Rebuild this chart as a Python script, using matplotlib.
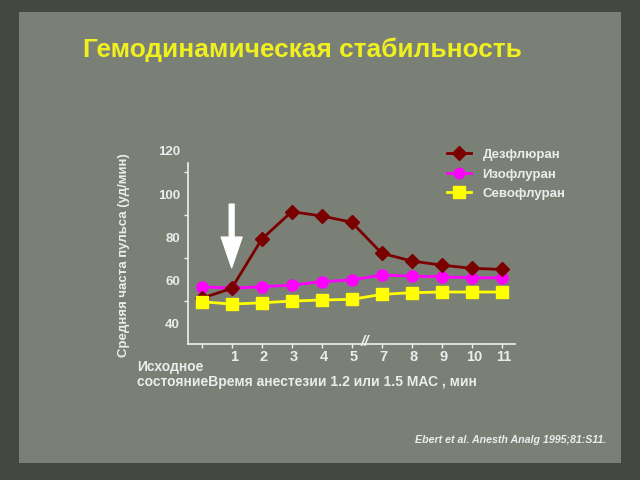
import matplotlib.pyplot as plt
from matplotlib.patches import Rectangle

# data (beats/min)
time_labels = ['1', '2', '3', '4', '5', '7', '8', '9', '10', '11']
desflurane = [51.3, 55.9, 78.7, 91.5, 89.5, 86.6, 72.2, 68.6, 66.7, 65.2, 64.7]
isoflurane = [56.7, 55.9, 56.7, 57.4, 59.0, 59.8, 62.1, 61.6, 61.3, 60.8, 60.8]
sevoflurane = [49.7, 48.6, 49.2, 50.0, 50.5, 50.8, 53.1, 53.9, 54.2, 54.2, 54.2]
series_names = ['Дезфлюран', 'Изофлуран', 'Севофлуран']
y_labels = [120, 100, 80, 60, 40]

txt = '#ececec'
font = ['Liberation Sans', 'DejaVu Sans']
plt.rcParams['font.family'] = font

fig = plt.figure(figsize=(6.4, 4.8), dpi=100)
fig.patch.set_facecolor('#45483f')
fig.patches.append(Rectangle((0.03, 0.035), 0.94, 0.94, transform=fig.transFigure,
                             facecolor='#7b8077', edgecolor='none', zorder=-5))

fig.text(0.13, 0.896, 'Гемодинамическая стабильность', color='#f0f01e',
         fontsize=18.9, fontweight='bold', ha='left', va='center')

ax = fig.add_axes([0.294, 0.283, 0.511, 0.377])
ax.set_facecolor('none')
x = list(range(len(desflurane)))

l1, = ax.plot(x, desflurane, color='#7a0000', marker='D', markersize=7.5,
              linewidth=2, label=series_names[0], zorder=3)
l2, = ax.plot(x, isoflurane, color='#ff00ff', marker='o', markersize=8,
              linewidth=2, label=series_names[1], zorder=2)
l3, = ax.plot(x, sevoflurane, color='#ffff00', marker='s', markersize=8.5,
              linewidth=2, label=series_names[2], zorder=4)

ax.set_xlim(-0.45, 10.45)
ax.set_ylim(30, 114)
for s in ['top', 'right']:
    ax.spines[s].set_visible(False)
for s in ['left', 'bottom']:
    ax.spines[s].set_color('#f0f0f0')
    ax.spines[s].set_linewidth(1.2)

ax.set_yticks([50, 70, 90, 110])
ax.set_yticklabels([])
ax.tick_params(axis='y', colors='#f0f0f0', length=3, width=1)
ax.set_xticks(x)
ax.set_xticklabels([])
ax.tick_params(axis='x', colors='#f0f0f0', length=3, width=1)

for v in y_labels:
    ax.text(-0.025, v - 1, str(v), transform=ax.get_yaxis_transform(),
            ha='right', va='center', color=txt, fontsize=9.5, fontweight='bold',
            clip_on=False)
for i, lab in enumerate(time_labels):
    ax.text(i + 1.07, -0.072, lab, transform=ax.get_xaxis_transform(),
            ha='center', va='center', color=txt, fontsize=10.5, fontweight='bold')

# break mark between 5 and 7
ax.text(5.45, 0.01, '//', transform=ax.get_xaxis_transform(), ha='center',
        va='center', color=txt, fontsize=11, fontweight='bold', style='italic')

# arrow marking the start
ax.annotate('', xy=(1, 65.5), xytext=(1, 95),
            arrowprops=dict(facecolor='white', edgecolor='white', width=3.5,
                            headwidth=15, headlength=22))

fig.text(0.194, 0.469, 'Средняя часта пульса (уд/мин)', rotation=90, color=txt,
         fontsize=9.5, fontweight='bold', ha='center', va='center')
fig.text(0.214, 0.235, 'Исходное', color=txt, fontsize=10, fontweight='bold',
         ha='left', va='center')
fig.text(0.214, 0.204, 'состояниеВремя анестезии 1.2 или 1.5 МАС , мин',
         color=txt, fontsize=10, fontweight='bold', ha='left', va='center')

leg = ax.legend(handles=[l1, l2, l3], loc='upper left',
                bbox_to_anchor=(0.755, 1.145), frameon=False, handlelength=1.8,
                labelspacing=0.55, handletextpad=0.9, markerscale=0.95,
                prop={'family': font, 'weight': 'bold', 'size': 9.5})
for t in leg.get_texts():
    t.set_color(txt)

fig.text(0.648, 0.084, 'Ebert et al. Anesth Analg 1995;81:S11.', color=txt,
         fontsize=7.7, fontweight='bold', style='italic', ha='left', va='center')

fig.savefig('out.png', dpi=100, facecolor=fig.get_facecolor())
